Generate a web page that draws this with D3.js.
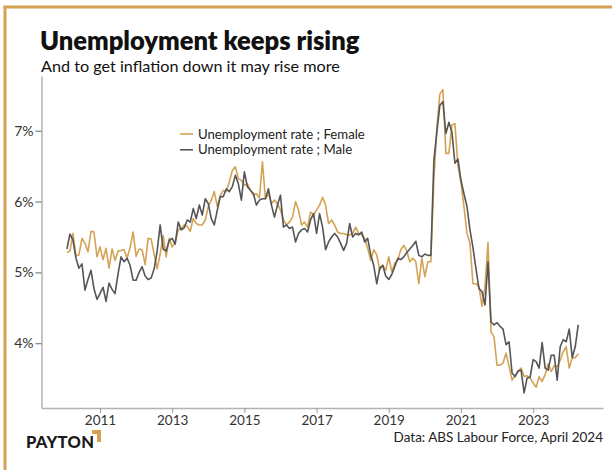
<!DOCTYPE html>
<html>
<head>
<meta charset="utf-8">
<script src="https://cdn.jsdelivr.net/npm/d3@7"></script>
<style>
  html, body { margin: 0; padding: 0; background: #fff; }
  svg { display: block; }
  text { font-family: Lato, "Noto Sans", sans-serif; }
</style>
</head>
<body>
<svg id="chart" width="612" height="470"></svg>
<script>
// Monthly series, starting February 2010 and ending April 2024 (ABS Labour Force, %)
const firstMonth = { year: 2010, month: 2 };

const female = [
  5.28, 5.30, 5.55, 5.23, 5.25, 5.48, 5.41, 5.29, 5.58, 5.57, 5.22,
  5.36, 5.18, 5.34, 5.06, 5.33, 5.17, 5.30, 5.31, 5.32, 5.20, 5.35, 5.57,
  5.23, 5.33, 5.32, 5.11, 5.48, 5.47, 5.26, 5.05, 5.26, 5.52, 5.22, 5.48,
  5.36, 5.42, 5.60, 5.62, 5.67, 5.65, 5.58, 5.76, 5.69, 5.67, 5.67, 5.74,
  5.93, 6.02, 6.14, 5.93, 6.09, 6.16, 6.14, 6.28, 6.44, 6.49, 6.32, 6.30,
  6.23, 6.25, 6.16, 6.09, 6.11, 6.05, 6.56, 6.04, 6.11, 5.97, 6.02, 5.97,
  5.88, 5.74, 5.67, 5.71, 5.78, 6.00, 5.88, 5.67, 5.71, 5.64, 5.85, 5.81,
  5.88, 5.95, 6.06, 5.95, 5.69, 5.74, 5.67, 5.57, 5.55, 5.55, 5.53, 5.53,
  5.55, 5.64, 5.55, 5.53, 5.48, 5.34, 5.17, 5.32, 5.25, 5.03, 5.10, 5.03,
  5.22, 5.01, 5.13, 5.17, 5.32, 5.38, 5.30, 5.15, 5.20, 5.15, 4.84, 5.20,
  4.94, 5.15, 5.15, 6.30, 7.05, 7.52, 7.58, 6.68, 6.68, 7.08, 7.10, 6.51,
  6.27, 5.93, 5.55, 5.41, 4.84, 4.84, 4.80, 4.52, 4.80, 5.42, 4.16, 4.09,
  3.69, 3.69, 3.72, 3.86, 3.67, 3.48, 3.54, 3.60, 3.65, 3.53, 3.54, 3.51,
  3.44, 3.38, 3.53, 3.46, 3.56, 3.71, 3.60, 3.68, 3.67, 3.76, 3.88, 3.95,
  3.65, 3.79, 3.80, 3.85
];

const male = [
  5.33, 5.54, 5.46, 5.20, 5.06, 5.12, 4.75, 4.90, 5.03, 4.77, 4.62,
  4.70, 4.79, 4.59, 4.85, 4.76, 4.70, 4.98, 5.22, 5.15, 5.20, 5.10, 4.89,
  4.89, 5.00, 5.08, 4.95, 4.90, 4.92, 5.05, 5.30, 5.67, 5.33, 5.30, 5.45,
  5.48, 5.40, 5.71, 5.60, 5.63, 5.74, 5.71, 5.90, 5.76, 5.95, 5.81, 6.04,
  5.97, 5.76, 5.67, 5.88, 6.07, 6.07, 6.18, 6.14, 6.21, 6.37, 6.25, 6.02,
  6.42, 6.21, 6.16, 6.11, 5.95, 6.02, 6.04, 6.04, 6.18, 5.95, 5.78, 5.95,
  6.09, 5.64, 5.67, 5.62, 5.64, 5.43, 5.55, 5.60, 5.62, 5.57, 5.74, 5.83,
  5.55, 5.83, 5.64, 5.32, 5.43, 5.50, 5.55, 5.50, 5.41, 5.31, 5.41, 5.69,
  5.50, 5.55, 5.53, 5.57, 5.43, 5.48, 5.25, 5.10, 4.84, 5.06, 5.10, 4.95,
  4.90, 4.97, 5.08, 5.20, 5.18, 5.22, 5.28, 5.33, 5.38, 5.44, 5.24, 5.22,
  5.26, 5.24, 5.24, 6.58, 6.98, 7.36, 7.41, 6.96, 7.12, 6.98, 6.54, 6.60,
  6.30, 6.11, 5.93, 5.60, 5.35, 5.05, 4.77, 4.73, 4.54, 5.15, 4.30, 4.26,
  4.29, 4.24, 4.20, 3.98, 4.02, 3.58, 3.53, 3.61, 3.62, 3.30, 3.51, 3.52,
  3.77, 3.74, 3.65, 4.01, 3.65, 3.62, 3.83, 3.83, 3.48, 3.95, 4.05, 4.02,
  4.20, 3.80, 3.95, 4.26
];

const yearTicks = [2011, 2013, 2015, 2017, 2019, 2021, 2023];
const pctTicks = [4, 5, 6, 7];

const seriesNames = ["Unemployment rate ; Female", "Unemployment rate ; Male"];
const seriesColors = ["#d5a253", "#555555"];

const titleText = "Unemployment keeps rising";
const subtitleText = "And to get inflation down it may rise more";
const sourceText = "Data: ABS Labour Force, April 2024";
const brandText = "PAYTON";

// decimal-year position of each monthly observation
const monthTime = i => firstMonth.year + (firstMonth.month - 1 + i) / 12;

const svg = d3.select("#chart");
const gold = "#d5a253";

// frame
svg.append("line").attr("x1", 5).attr("x2", 5).attr("y1", 6).attr("y2", 470)
  .attr("stroke", gold).attr("stroke-width", 3);
svg.append("line").attr("x1", 3.5).attr("x2", 612).attr("y1", 7).attr("y2", 7)
  .attr("stroke", gold).attr("stroke-width", 3);

// headings
svg.append("text").attr("x", 40).attr("y", 50)
  .attr("font-size", 25.5).attr("font-weight", 800).attr("fill", "#111")
  .text(titleText);
svg.append("text").attr("x", 41).attr("y", 72)
  .attr("font-size", 16.2).attr("fill", "#111")
  .text(subtitleText);

// scales
const plot = { left: 41.5, right: 603, top: 76, bottom: 408 };
const x = d3.scaleLinear()
  .domain([2009.379, 2024.936])
  .range([plot.left, plot.right]);
const y = d3.scaleLinear()
  .domain([3.086, 7.772])
  .range([plot.bottom, plot.top]);

// axes
const xAxis = d3.axisBottom(x).tickValues(yearTicks).tickFormat(d3.format("d"))
  .tickSize(5).tickPadding(2).tickSizeOuter(0);
const gx = svg.append("g").attr("transform", `translate(0,${plot.bottom})`).call(xAxis);

const yAxis = d3.axisLeft(y).tickValues(pctTicks).tickFormat(d => d + "%")
  .tickSize(6).tickPadding(2).tickSizeOuter(0);
const gy = svg.append("g").attr("transform", `translate(${plot.left},0)`).call(yAxis);

[gx, gy].forEach(g => {
  g.select(".domain").attr("stroke", "#b3b3b3").attr("stroke-width", 1.5);
  g.selectAll(".tick line").attr("stroke", "#666").attr("stroke-width", 1);
  g.selectAll(".tick text").attr("fill", "#333").attr("font-size", 14)
    .attr("font-family", "Lato, 'Noto Sans', sans-serif");
});
gx.selectAll(".tick line").attr("stroke", "#999");
gx.selectAll(".tick text").attr("font-size", 13.5);

// lines
const line = d3.line()
  .x((d, i) => x(monthTime(i)))
  .y(d => y(d));

[female, male].forEach((vals, k) => {
  svg.append("path").datum(vals)
    .attr("fill", "none")
    .attr("stroke", seriesColors[k])
    .attr("stroke-width", 1.6)
    .attr("stroke-linejoin", "round")
    .attr("d", line);
});

// legend
const legend = svg.append("g").attr("transform", "translate(180,134)");
seriesNames.forEach((name, k) => {
  const row = legend.append("g").attr("transform", `translate(0,${k * 15.8})`);
  row.append("line").attr("x1", 0).attr("x2", 13).attr("y1", 0).attr("y2", 0)
    .attr("stroke", seriesColors[k]).attr("stroke-width", 1.6);
  row.append("text").attr("x", 18).attr("y", 0).attr("dy", "0.35em")
    .attr("font-size", 13.2).attr("fill", "#222").text(name);
});

// source note
svg.append("text").attr("x", 603).attr("y", 442).attr("text-anchor", "end")
  .attr("font-size", 13.5).attr("fill", "#222").text(sourceText);

// brand mark
svg.append("text").attr("x", 26).attr("y", 448)
  .attr("font-size", 16.5).attr("font-weight", 900).attr("fill", "#1a1a1a")
  .attr("letter-spacing", 0.3).text(brandText);
svg.append("path")
  .attr("d", "M92,430 L101,430 L101,442 L97,442 L97,434 L92,434 Z")
  .attr("fill", gold);
</script>
</body>
</html>
